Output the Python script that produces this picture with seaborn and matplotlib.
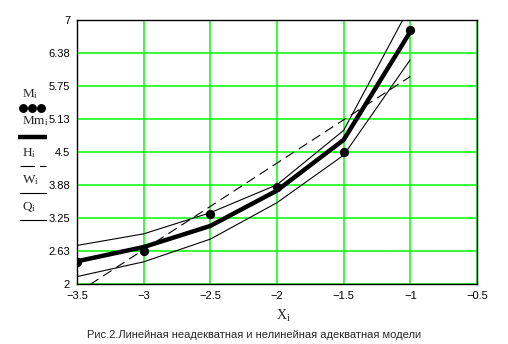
import matplotlib
matplotlib.use("Agg")
import matplotlib.pyplot as plt
import seaborn as sns
import pandas as pd
from matplotlib.lines import Line2D

# ---- data ----
x_vals = [-3.5, -3.0, -2.5, -2.0, -1.5, -1.0]
M_vals = [2.42, 2.62, 3.32, 3.83, 4.50, 6.82]
Mm_vals = [2.43, 2.70, 3.10, 3.77, 4.73, 6.78]
H_vals = [1.83, 2.65, 3.47, 4.29, 5.11, 5.93]
W_vals = [2.73, 2.95, 3.35, 3.88, 4.91, 7.27]
Q_vals = [2.14, 2.42, 2.85, 3.54, 4.44, 6.25]

x_ticks = [-3.5, -3.0, -2.5, -2.0, -1.5, -1.0, -0.5]
x_tick_labels = ["\u22123.5", "\u22123", "\u22122.5", "\u22122", "\u22121.5", "\u22121", "\u22120.5"]
y_ticks = [2.0, 2.625, 3.25, 3.875, 4.5, 5.125, 5.75, 6.375, 7.0]
y_tick_labels = ["2", "2.63", "3.25", "3.88", "4.5", "5.13", "5.75", "6.38", "7"]
caption = "Рис.2.Линейная неадекватная и нелинейная адекватная модели"

sns.set_style("white")
plt.rcParams["font.family"] = ["Liberation Sans", "DejaVu Sans"]
plt.rcParams["mathtext.fontset"] = "custom"
plt.rcParams["mathtext.rm"] = "Liberation Serif"
plt.rcParams["mathtext.it"] = "Liberation Serif:italic"

df = pd.DataFrame({"x": x_vals, "M": M_vals, "Mm": Mm_vals,
                   "H": H_vals, "W": W_vals, "Q": Q_vals})

W, Hh = 508, 344
fig = plt.figure(figsize=(W / 100, Hh / 100), dpi=100)
ax = fig.add_axes([77 / W, (Hh - 284) / Hh, 400 / W, 264 / Hh])

ax.set_xlim(-3.5, -0.5)
ax.set_ylim(2, 7)
ax.set_xticks(x_ticks)
ax.set_xticklabels(x_tick_labels)
ax.set_yticks(y_ticks)
ax.set_yticklabels(y_tick_labels)
ax.grid(True, color="#00ff00", linewidth=1.1)
ax.set_axisbelow(True)
ax.tick_params(length=0, labelsize=8, colors="black")
ax.tick_params(axis="y", pad=5)
ax.tick_params(axis="x", pad=5)
for s in ax.spines.values():
    s.set_color("black")
    s.set_linewidth(1.0)
    s.set_visible(True)

sns.lineplot(data=df, x="x", y="W", ax=ax, color="black", linewidth=0.8, estimator=None)
sns.lineplot(data=df, x="x", y="Q", ax=ax, color="black", linewidth=0.8, estimator=None)
lh = sns.lineplot(data=df, x="x", y="H", ax=ax, color="black", linewidth=0.8, estimator=None)
lh.lines[-1].set_dashes((9, 5))
sns.lineplot(data=df, x="x", y="Mm", ax=ax, color="black", linewidth=3.2, estimator=None)
sns.scatterplot(data=df, x="x", y="M", ax=ax, color="black", s=45, edgecolor="black",
                linewidth=0, zorder=5)
for ln in ax.lines:
    ln.set_solid_capstyle("butt")

ax.set_xlabel("")
ax.set_ylabel("")

# x label and caption
fig.text(283 / W, 1 - 316 / Hh, r"$\mathrm{X_i}$", ha="center", va="center", fontsize=10)
fig.text(254 / W, 1 - 335 / Hh, caption, ha="center", va="center", fontsize=8)

# legend on the left (Mathcad style)
def fy(py):
    return 1 - py / Hh

def fx(px):
    return px / W

fs = 9.5
fig.text(fx(22), fy(94), r"$\mathrm{M_i}$", ha="left", va="center", fontsize=fs)
for px in (22.5, 31.5, 40.5):
    fig.add_artist(Line2D([fx(px)], [fy(108)], marker="o", color="black",
                          markersize=5.4, linestyle="none"))
fig.text(fx(22), fy(121), r"$\mathrm{Mm_i}$", ha="left", va="center", fontsize=fs)
fig.add_artist(Line2D([fx(18), fx(47)], [fy(137), fy(137)], color="black", linewidth=3.2,
                      solid_capstyle="butt"))
fig.text(fx(22), fy(153), r"$\mathrm{H_i}$", ha="left", va="center", fontsize=fs)
fig.add_artist(Line2D([fx(20), fx(46)], [fy(166), fy(166)], color="black", linewidth=0.8,
                      dashes=(13, 4.5)))
fig.text(fx(22), fy(180), r"$\mathrm{W_i}$", ha="left", va="center", fontsize=fs)
fig.add_artist(Line2D([fx(20), fx(46)], [fy(193), fy(193)], color="black", linewidth=0.8))
fig.text(fx(22), fy(207), r"$\mathrm{Q_i}$", ha="left", va="center", fontsize=fs)
fig.add_artist(Line2D([fx(20), fx(46)], [fy(220), fy(220)], color="black", linewidth=0.8))

fig.savefig("out.png", dpi=100, facecolor="white")
